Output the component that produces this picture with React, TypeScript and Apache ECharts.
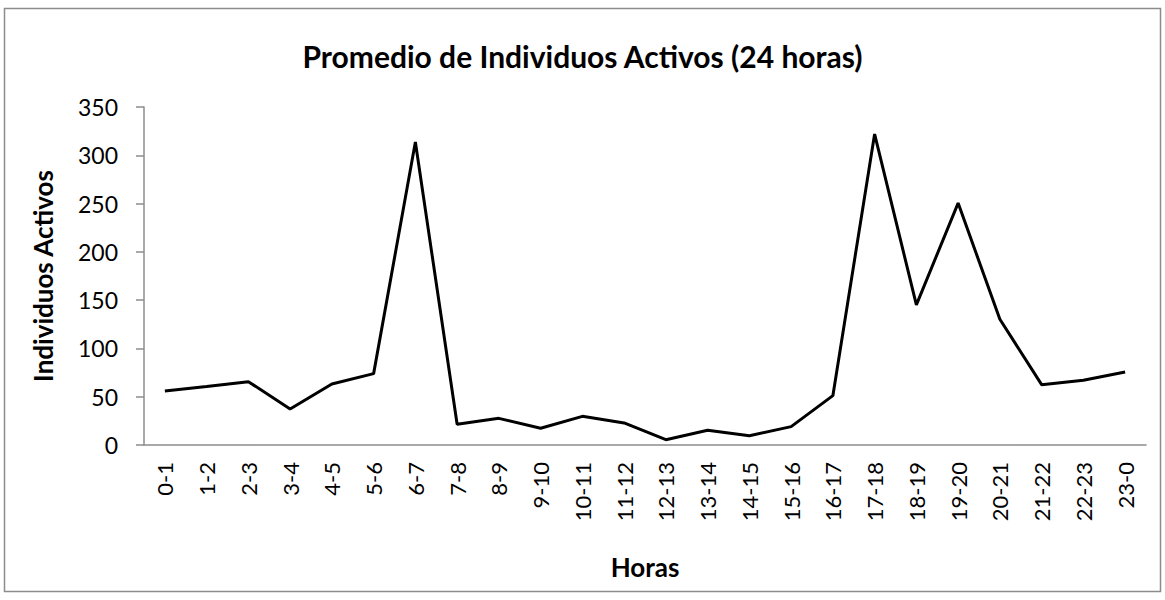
import React, { useEffect, useRef } from "react";
import * as echarts from "echarts";

const categories = [
  "0-1", "1-2", "2-3", "3-4", "4-5", "5-6", "6-7", "7-8", "8-9", "9-10", "10-11", "11-12",
  "12-13", "13-14", "14-15", "15-16", "16-17", "17-18", "18-19", "19-20", "20-21", "21-22", "22-23", "23-0",
];
const activos = [
  56, 60.5, 65.6, 37.3, 63.2, 73.9, 313.7, 21.4, 27.6, 17.3, 29.7, 22.8,
  5.5, 15.2, 9.6, 19, 51.1, 322, 145.1, 250.5, 130.2, 62.5, 67, 75.6,
];
const titleText = "Promedio de Individuos Activos (24 horas)";
const xName = "Horas";
const yName = "Individuos Activos";

const FONT = "Lato, 'Open Sans', sans-serif";

export default function App() {
  const ref = useRef<HTMLDivElement>(null);
  useEffect(() => {
    if (!ref.current) return;
    const chart = echarts.init(ref.current, undefined, { renderer: "svg" });
    chart.setOption({
      animation: false,
      backgroundColor: "#ffffff",
      textStyle: { fontFamily: FONT },
      title: {
        text: titleText,
        left: "center",
        top: 36,
        textStyle: { fontFamily: FONT, fontSize: 30, fontWeight: "bold", color: "#000" },
      },
      graphic: [
        {
          type: "rect",
          shape: { x: 4.5, y: 8.5, width: 1156, height: 583 },
          style: { fill: "none", stroke: "#8c8c8c", lineWidth: 1.5 },
          silent: true,
        },
      ],
      grid: { left: 144, right: 19, top: 107, bottom: 155, containLabel: false },
      xAxis: {
        type: "category",
        data: categories,
        boundaryGap: true,
        name: xName,
        nameLocation: "middle",
        nameGap: 109,
        nameTextStyle: { fontFamily: FONT, fontSize: 26, fontWeight: "bold", color: "#000" },
        axisLine: { lineStyle: { color: "#8c8c8c", width: 1.5 } },
        axisTick: { show: false },
        axisLabel: {
          rotate: 90,
          interval: 0,
          margin: 17,
          fontFamily: FONT,
          fontSize: 22,
          color: "#000",
        },
      },
      yAxis: {
        type: "value",
        min: 0,
        max: 350,
        interval: 50,
        name: yName,
        nameLocation: "middle",
        nameGap: 88,
        nameTextStyle: { fontFamily: FONT, fontSize: 26, fontWeight: "bold", color: "#000" },
        axisLine: { show: true, lineStyle: { color: "#8c8c8c", width: 1.5 } },
        axisTick: { show: true, length: 8, lineStyle: { color: "#8c8c8c", width: 1.5 } },
        splitLine: { show: false },
        axisLabel: { fontFamily: FONT, fontSize: 23, color: "#000", margin: 26 },
      },
      series: [
        {
          type: "line",
          data: activos,
          symbol: "none",
          lineStyle: { color: "#000", width: 3 },
        },
      ],
    });
    return () => chart.dispose();
  }, []);
  return (
    <div
      ref={ref}
      style={{ position: "absolute", left: 0, top: 0, width: 1165, height: 600 }}
    />
  );
}
